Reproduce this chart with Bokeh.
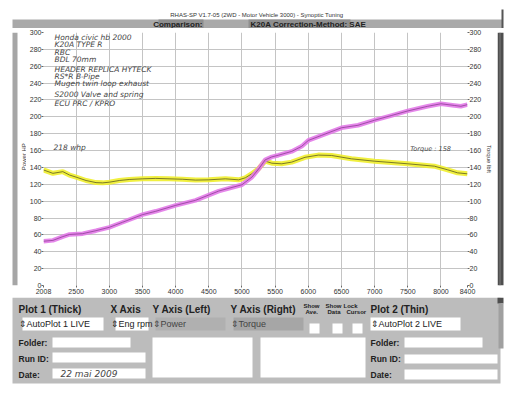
from bokeh.plotting import figure
from bokeh.models import Range1d, LinearAxis, FixedTicker, Label
from bokeh.layouts import column, row
from bokeh.embed import file_html
from bokeh.resources import INLINE

# ---------------- data ----------------
power_rpm = [2008, 2150, 2300, 2400, 2600, 2800, 3000, 3200, 3500, 3700, 4000, 4300, 4650,
             5000, 5150, 5250, 5350, 5450, 5550, 5750, 5900, 6000, 6200, 6500, 6750, 7000,
             7250, 7500, 7800, 8000, 8200, 8300, 8400]
power_hp = [52.5, 53.5, 58, 60.5, 61.5, 65, 69, 75, 84, 88, 95, 101, 112,
            119.5, 128.5, 138, 149, 152.5, 154.5, 159, 165, 172, 178, 187, 190, 196,
            201.5, 207, 212.5, 215.5, 213.5, 212.5, 214.5]
torque_rpm = [2008, 2150, 2300, 2400, 2500, 2650, 2800, 2900, 3000, 3150, 3300, 3500, 3700,
              3900, 4100, 4300, 4500, 4750, 4950, 5050, 5150, 5250, 5350, 5450, 5600, 5750,
              5950, 6150, 6350, 6650, 7000, 7500, 7900, 8100, 8250, 8400]
torque_lbft = [137, 133, 135, 131, 128.5, 124.5, 122, 121.7, 122.5, 124.5, 125.7, 126.5, 127,
               126.5, 126, 125, 125.3, 126.5, 125.3, 127.7, 132.5, 138.5, 147.5, 145, 144.3, 146.3,
               152, 154.6, 154.2, 150.2, 147.4, 144.3, 141.5, 137.2, 133.6, 132.4]
x_ticks = [2008, 2500, 3000, 3500, 4000, 4500, 5000, 5500, 6000, 6500, 7000, 7500, 8000, 8400]
y_ticks = list(range(0, 301, 20))
notes = ["Honda civic hb 2000", "K20A  TYPE R", "RBC", "BDL 70mm", "HEADER REPLICA HYTECK",
         "RS*R  B-Pipe", "Mugen twin loop exhaust", "S2000 Valve and spring", "ECU PRC / KPRO"]
whp_note = "218 whp"
torque_note = "Torque : 158"
left_label = "Power HP"
right_label = "Torque lbft"
title_text = "RHAS-SP V1.7-05   (2WD - Motor Vehicle 3000) - Synoptic Tuning"
date_text = "22 mai 2009"

FONT = "Liberation Sans"
HAND = "DejaVu Sans"
INK = "#444444"


def deco(w, h, xr, yr):
    f = figure(width=w, height=h, x_range=Range1d(*xr), y_range=Range1d(*yr),
               output_backend="svg", toolbar_location=None, x_axis_type=None, y_axis_type=None,
               min_border=0, outline_line_color=None, background_fill_color="white",
               border_fill_color="white")
    f.grid.visible = False
    return f


def lab(f, x, y, t, size="10px", style="normal", color="#222222", align="left", font=FONT,
        angle=0):
    f.add_layout(Label(x=x, y=y, text=t, text_font=font, text_font_size=size,
                       text_font_style=style, text_color=color, text_align=align,
                       text_baseline="middle", angle=angle, angle_units="deg"))


# ---------------- header ----------------
hd = deco(512, 28, (0, 512), (28, 0))
hd.quad(left=12, right=502, top=19, bottom=28, fill_color="#a9a9a9", line_color=None)
hd.quad(left=158, right=203, top=19, bottom=28, fill_color="#8e8e8e", line_color=None)
hd.quad(left=248, right=350, top=19, bottom=28, fill_color="#8e8e8e", line_color=None)
hd.quad(left=501, right=503, top=9, bottom=28, fill_color="#555555", line_color=None)
lab(hd, 258, 14, title_text, size="6px", color="#333333", align="center")
lab(hd, 202, 23.5, "Comparison:", size="8px", style="bold", align="right")
lab(hd, 250, 23.5, "K20A    Correction-Method: SAE", size="8px", style="bold")

# ---------------- side strips ----------------
ls = deco(26, 269, (0, 26), (297, 28))
ls.quad(left=12, right=17, top=28, bottom=297, fill_color="#a6a6a6", line_color=None)
lab(ls, 23, 160, left_label, size="6px", color="#333333", align="center", angle=90)
rs = deco(15, 269, (497, 512), (297, 28))
rs.quad(left=497, right=503, top=28, bottom=297, fill_color="#4e4e4e", line_color=None)
rs.quad(left=499, right=500, top=28, bottom=297, fill_color="#7a7a7a", line_color=None)

# ---------------- chart ----------------
p = figure(width=471, height=269, x_range=Range1d(2008, 8400), y_range=Range1d(0, 300),
           output_backend="svg", toolbar_location=None,
           min_border_left=16, min_border_right=30, min_border_top=4, min_border_bottom=12,
           background_fill_color="white", border_fill_color="white", outline_line_color=None)
p.xaxis.ticker = FixedTicker(ticks=x_ticks)
p.yaxis.ticker = FixedTicker(ticks=y_ticks)
ra = LinearAxis(ticker=FixedTicker(ticks=y_ticks), axis_label=right_label)
p.add_layout(ra, "right")
for ax in p.axis:
    ax.axis_line_color = None
    ax.major_tick_line_color = "#666666"
    ax.major_tick_in = 0
    ax.major_tick_out = 3
    ax.minor_tick_line_color = None
    ax.major_label_text_font = FONT
    ax.major_label_text_font_size = "7px"
    ax.major_label_text_color = "#333333"
    ax.major_label_standoff = 1
    ax.axis_label_text_font = FONT
    ax.axis_label_text_font_size = "6px"
    ax.axis_label_text_font_style = "normal"
    ax.axis_label_text_color = "#333333"
    ax.axis_label_standoff = 2
p.xaxis.major_tick_out = 2
p.yaxis.major_tick_out = 2
p.yaxis.major_label_standoff = 0
p.grid.grid_line_color = "#c4c4c4"
p.grid.grid_line_width = 1
p.xgrid.ticker = FixedTicker(ticks=x_ticks)
p.ygrid.ticker = FixedTicker(ticks=y_ticks)

p.line(torque_rpm, torque_lbft, line_color="#f0ee2c", line_width=5, line_alpha=0.9)
p.line(torque_rpm, torque_lbft, line_color="#5c5a20", line_width=0.8)
p.line(power_rpm, power_hp, line_color="#e27ae8", line_width=4.5, line_alpha=0.9)
p.line(power_rpm, power_hp, line_color="#8e3c96", line_width=0.8)

note_x = 2175
note_y = [294.5, 285.5, 276, 268.5, 256.5, 248, 240, 227, 216]
for t, yy in zip(notes, note_y):
    p.add_layout(Label(x=note_x, y=yy, text=t, text_font=HAND, text_font_size="7.5px",
                       text_font_style="italic", text_color=INK, text_baseline="middle"))
p.add_layout(Label(x=2158, y=164, text=whp_note, text_font=HAND, text_font_size="7.5px",
                   text_font_style="italic", text_color=INK, text_baseline="middle"))
p.add_layout(Label(x=7536, y=162, text=torque_note, text_font=HAND, text_font_size="6.5px",
                   text_font_style="italic", text_color=INK, text_baseline="middle"))

# ---------------- bottom panel ----------------
bt = deco(512, 101, (0, 512), (398, 297))
bt.quad(left=12, right=500, top=297, bottom=383, fill_color="#bcbcbc", line_color=None)
bt.quad(left=497, right=503, top=297, bottom=303, fill_color="#4e4e4e", line_color=None)
bt.quad(left=498, right=503, top=303, bottom=348, fill_color="#a0a0a0", line_color=None)
# drop-down fields
bt.quad(left=[22, 115, 370], right=[103, 148, 460], top=317, bottom=330,
        fill_color="white", line_color=None)
bt.quad(left=155, right=225, top=317, bottom=330, fill_color="#b0b0b0", line_color=None)
bt.quad(left=233, right=303, top=317, bottom=330, fill_color="#a6a6a6", line_color=None)
# check boxes
bt.quad(left=[309, 332, 352], right=[319, 342, 362], top=323, bottom=333,
        fill_color="white", line_color=None)
# text fields
bt.quad(left=[52, 52, 52, 404, 404, 404], right=[130, 145, 145, 482, 497, 497],
        top=[337, 352, 368, 337, 354, 369], bottom=[347, 362, 378, 347, 363, 379],
        fill_color="white", line_color=None)
bt.quad(left=[152, 260], right=[252, 365], top=337, bottom=377,
        fill_color="white", line_color=None)

for x, t in [(18, "Plot 1 (Thick)"), (110, "X Axis"), (152, "Y Axis (Left)"),
             (230, "Y Axis (Right)"), (370, "Plot 2 (Thin)")]:
    lab(bt, x, 309, t, size="10px", style="bold")
for x, t1, t2 in [(303, "Show", "Ave."), (325, "Show", "Data"), (343, "Lock", "Cursor")]:
    lab(bt, x, 305, t1, size="6px", style="bold")
    lab(bt, x + 2 if t2 != "Cursor" else x + 3, 311, t2, size="6px", style="bold")
for x, t, c in [(18, "\u21d5AutoPlot 1 LIVE", "#222222"), (110, "\u21d5Eng rpm", "#222222"),
                (152, "\u21d5Power", "#444444"), (230, "\u21d5Torque", "#444444"),
                (370, "\u21d5AutoPlot 2 LIVE", "#222222")]:
    lab(bt, x, 323.5, t, size="9px", color=c)
for x in (18, 370):
    lab(bt, x, 342, "Folder:", size="8.5px", style="bold")
    lab(bt, x, 358, "Run ID:", size="8.5px", style="bold")
    lab(bt, x, 374, "Date:", size="8.5px", style="bold")
lab(bt, 60, 373, date_text, size="9px", style="italic", color=INK, font=HAND)

layout = column(hd, row(ls, p, rs), bt)
open("out.html", "w").write(file_html(layout, INLINE))
